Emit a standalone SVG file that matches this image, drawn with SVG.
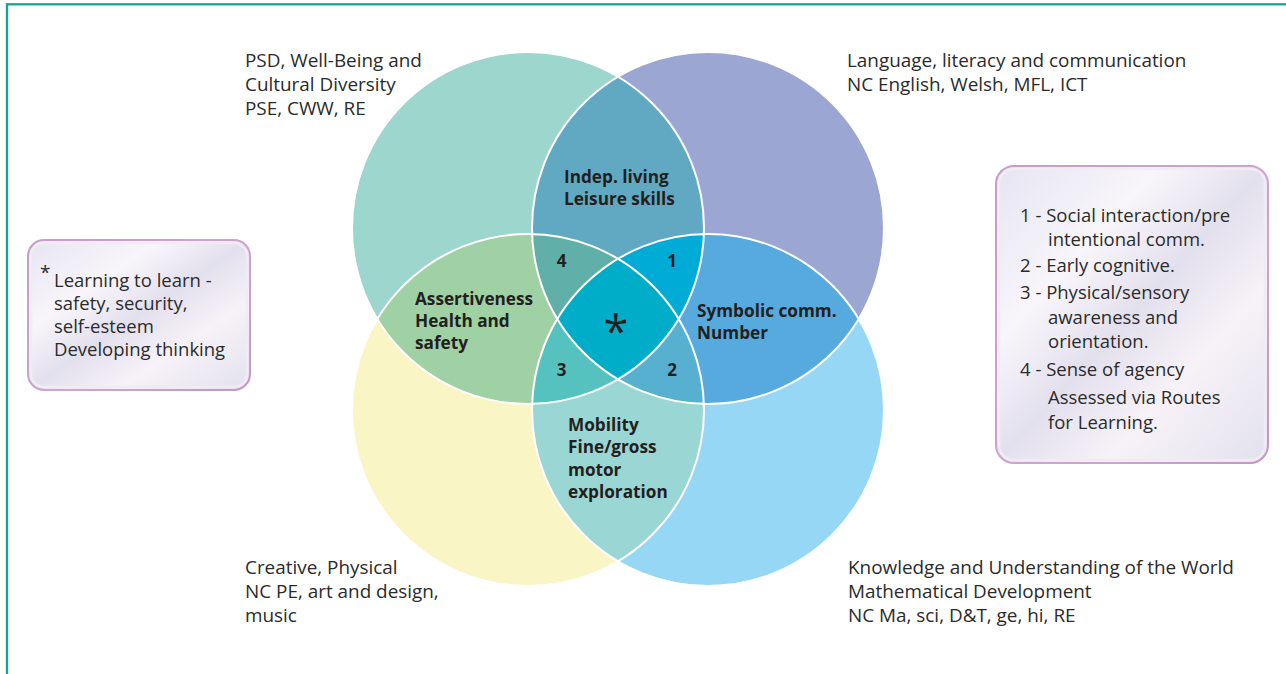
<svg xmlns="http://www.w3.org/2000/svg" width="1286" height="674" viewBox="0 0 1286 674">
  <style>
    .lbl { font-family: "Open Sans", "Noto Sans", sans-serif; font-size: 18.9px; fill: #2b2b2b; }
    .box { font-family: "Open Sans", "Noto Sans", sans-serif; font-size: 18.5px; fill: #2b2b2b; }
    .bold { font-family: "Open Sans", "Noto Sans", sans-serif; font-size: 17.2px; font-weight: bold; fill: #231f20; }
    .num { font-family: "Open Sans", "Noto Sans", sans-serif; font-size: 17px; font-weight: bold; fill: #231f20; text-anchor: middle; }
    .outline { fill: none; stroke: #ffffff; stroke-width: 2; }
    .panel { stroke: url(#panelStroke); stroke-width: 2; }
    .panelInner { fill: none; stroke: #f1ecf3; stroke-width: 2.5; }
  </style>
  <defs>
    <clipPath id="cTL"><circle cx="528" cy="228" r="176"/></clipPath>
    <clipPath id="cTR"><circle cx="708" cy="228" r="176"/></clipPath>
    <clipPath id="cBL"><circle cx="528" cy="410" r="176"/></clipPath>
    <clipPath id="cBR"><circle cx="708" cy="410" r="176"/></clipPath>
    <linearGradient id="pearl" x1="0" y1="0" x2="1" y2="1">
      <stop offset="0" stop-color="#e6e4f1"/>
      <stop offset="0.3" stop-color="#f8f6fa"/>
      <stop offset="0.5" stop-color="#e3e0ee"/>
      <stop offset="0.7" stop-color="#f7f2f7"/>
      <stop offset="1" stop-color="#e2e1ee"/>
    </linearGradient>
    <linearGradient id="panelStroke" x1="0" y1="0" x2="1" y2="1">
      <stop offset="0" stop-color="#c79cc8"/>
      <stop offset="0.6" stop-color="#cfa5cf"/>
      <stop offset="1" stop-color="#c497c4"/>
    </linearGradient>
  </defs>

  <rect id="frame" x="7" y="4.3" width="1320" height="720" fill="none" stroke="#19a392" stroke-width="2.3"/>

  <g id="venn">
    <circle id="circle-tl" cx="528" cy="228" r="176" fill="#9dd6cc"/>
    <circle id="circle-tr" cx="708" cy="228" r="176" fill="#9ba6d3"/>
    <circle id="circle-bl" cx="528" cy="410" r="176" fill="#f9f5c5"/>
    <circle id="circle-br" cx="708" cy="410" r="176" fill="#95d7f4"/>
    <!-- pairs -->
    <g clip-path="url(#cTL)"><circle cx="708" cy="228" r="176" fill="#61a9c3"/></g>
    <g clip-path="url(#cTL)"><circle cx="528" cy="410" r="176" fill="#a0d1a4"/></g>
    <g clip-path="url(#cTR)"><circle cx="708" cy="410" r="176" fill="#56aade"/></g>
    <g clip-path="url(#cBL)"><circle cx="708" cy="410" r="176" fill="#9ad6d4"/></g>
    <!-- triples -->
    <g clip-path="url(#cTL)"><g clip-path="url(#cTR)"><circle cx="528" cy="410" r="176" fill="#60afa9"/></g></g>
    <g clip-path="url(#cTL)"><g clip-path="url(#cTR)"><circle cx="708" cy="410" r="176" fill="#00acd6"/></g></g>
    <g clip-path="url(#cTR)"><g clip-path="url(#cBL)"><circle cx="708" cy="410" r="176" fill="#58b0d0"/></g></g>
    <g clip-path="url(#cTL)"><g clip-path="url(#cBL)"><circle cx="708" cy="410" r="176" fill="#55c2c0"/></g></g>
    <!-- all four -->
    <g clip-path="url(#cTL)"><g clip-path="url(#cTR)"><g clip-path="url(#cBL)"><circle cx="708" cy="410" r="176" fill="#00adc8"/></g></g></g>
    <!-- outlines -->
    <circle class="outline" cx="528" cy="228" r="176"/>
    <circle class="outline" cx="708" cy="228" r="176"/>
    <circle class="outline" cx="528" cy="410" r="176"/>
    <circle class="outline" cx="708" cy="410" r="176"/>
  </g>

  <g id="label-tl">
    <text class="lbl" x="245" y="67">PSD, Well-Being and</text>
    <text class="lbl" x="245" y="91">Cultural Diversity</text>
    <text class="lbl" x="245" y="115">PSE, CWW, RE</text>
  </g>
  <g id="label-tr">
    <text class="lbl" x="847" y="67">Language, literacy and communication</text>
    <text class="lbl" x="847" y="91">NC English, Welsh, MFL, ICT</text>
  </g>
  <g id="label-bl">
    <text class="lbl" x="245" y="574">Creative, Physical</text>
    <text class="lbl" x="245" y="598">NC PE, art and design,</text>
    <text class="lbl" x="245" y="622">music</text>
  </g>
  <g id="label-br">
    <text class="lbl" x="848" y="574">Knowledge and Understanding of the World</text>
    <text class="lbl" x="848" y="598">Mathematical Development</text>
    <text class="lbl" x="848" y="622">NC Ma, sci, D&amp;T, ge, hi, RE</text>
  </g>

  <g id="region-indep">
    <text class="bold" x="564" y="183">Indep. living</text>
    <text class="bold" x="564" y="205">Leisure skills</text>
  </g>
  <g id="region-assert">
    <text class="bold" x="415" y="305">Assertiveness</text>
    <text class="bold" x="415" y="327">Health and</text>
    <text class="bold" x="415" y="349">safety</text>
  </g>
  <g id="region-symbolic">
    <text class="bold" x="697" y="317">Symbolic comm.</text>
    <text class="bold" x="697" y="339">Number</text>
  </g>
  <g id="region-mobility">
    <text class="bold" x="568" y="431">Mobility</text>
    <text class="bold" x="568" y="453">Fine/gross</text>
    <text class="bold" x="568" y="476">motor</text>
    <text class="bold" x="568" y="498">exploration</text>
  </g>
  <g id="numbers">
    <text class="num" x="561.5" y="267">4</text>
    <text class="num" x="672" y="267">1</text>
    <text class="num" x="561.5" y="376">3</text>
    <text class="num" x="672" y="376">2</text>
    <text x="616" y="348" text-anchor="middle" style="font-family: 'Open Sans', 'Noto Sans', sans-serif; font-size: 45px; fill: #231f20;">*</text>
  </g>

  <g id="box-left">
    <rect class="panel" x="28" y="240" width="222" height="150" rx="16" fill="url(#pearl)"/>
    <rect class="panelInner" x="31" y="243" width="216" height="144" rx="13"/>
    <text class="box" x="40" y="279" style="font-size:19px">*</text>
    <text class="box" x="54" y="287">Learning to learn -</text>
    <text class="box" x="54" y="310">safety, security,</text>
    <text class="box" x="54" y="333">self-esteem</text>
    <text class="box" x="54" y="356">Developing thinking</text>
  </g>

  <g id="box-right">
    <rect class="panel" x="996" y="166" width="272" height="297" rx="18" fill="url(#pearl)"/>
    <rect class="panelInner" x="999" y="169" width="266" height="291" rx="15"/>
    <text class="box" x="1020" y="222">1 - Social interaction/pre</text>
    <text class="box" x="1048" y="246">intentional comm.</text>
    <text class="box" x="1020" y="272">2 - Early cognitive.</text>
    <text class="box" x="1020" y="299">3 - Physical/sensory</text>
    <text class="box" x="1048" y="324">awareness and</text>
    <text class="box" x="1048" y="348">orientation.</text>
    <text class="box" x="1020" y="376">4 - Sense of agency</text>
    <text class="box" x="1048" y="404">Assessed via Routes</text>
    <text class="box" x="1048" y="429">for Learning.</text>
  </g>
</svg>
